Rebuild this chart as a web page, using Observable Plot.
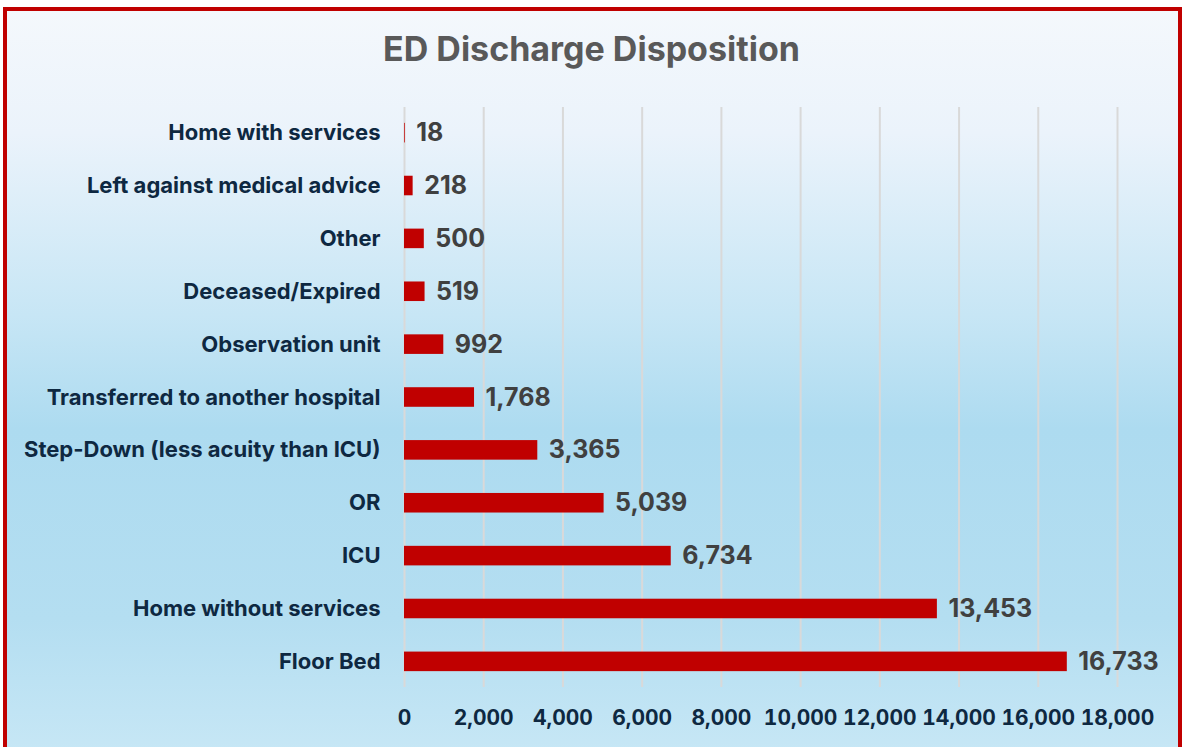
<!DOCTYPE html>
<html>
<head>
<meta charset="utf-8">
<script src="https://cdn.jsdelivr.net/npm/d3@7"></script>
<script src="https://cdn.jsdelivr.net/npm/@observablehq/plot@0.6"></script>
<style>
  html, body { margin: 0; padding: 0; background: #ffffff; overflow: hidden; }
  #page { position: relative; width: 1183px; height: 747px; overflow: hidden; font-family: Inter, "Noto Sans", sans-serif; }
  #frame {
    position: absolute; left: 3px; top: 7px; width: 1171px; height: 760px;
    border: 4px solid #C00000; border-bottom: none;
    background: linear-gradient(to bottom, #F4F8FC 0%, #EBF3FB 16%, #C7E6F5 40%, #ADDBF0 55%, #B4DEF1 80%, #C9E8F6 100%);
  }
  #title {
    position: absolute; left: 0; width: 1183px; top: 29px; text-align: center;
    font-size: 34px; line-height: 40px; font-weight: 700; color: #595959;
  }
  #chart { position: absolute; left: 0; top: 0; }
</style>
</head>
<body>
<div id="page">
  <div id="frame"></div>
  <div id="title">ED Discharge Disposition</div>
  <div id="chart"></div>
</div>
<script>
const categories = [
  "Home with services",
  "Left against medical advice",
  "Other",
  "Deceased/Expired",
  "Observation unit",
  "Transferred to another hospital",
  "Step-Down (less acuity than ICU)",
  "OR",
  "ICU",
  "Home without services",
  "Floor Bed"
];
const values = [18, 218, 500, 519, 992, 1768, 3365, 5039, 6734, 13453, 16733];
const xTicks = [0, 2000, 4000, 6000, 8000, 10000, 12000, 14000, 16000, 18000];

const data = categories.map((c, i) => ({category: c, value: values[i]}));
const fmt = d3.format(",");

const chart = Plot.plot({
  width: 1183,
  height: 747,
  marginLeft: 404,
  marginRight: 66,
  marginTop: 107,
  marginBottom: 60,
  style: {background: "transparent", fontFamily: "Inter, 'Noto Sans', sans-serif", overflow: "visible"},
  x: {domain: [0, 18000], ticks: xTicks, tickFormat: fmt, label: null},
  y: {domain: categories, paddingInner: 0.63, paddingOuter: 0.3, round: false, label: null},
  marks: [
    Plot.gridX(xTicks, {stroke: "#D9D9D9", strokeOpacity: 1, strokeWidth: 2}),
    Plot.barX(data, {x: "value", y: "category", fill: "#C00000"}),
    Plot.text(data, {x: "value", y: "category", text: d => fmt(d.value), dx: 11, textAnchor: "start",
      fontSize: 25, fontWeight: 700, fill: "#404040"}),
    Plot.axisX({ticks: xTicks, tickFormat: fmt, tickSize: 0, tickPadding: 23, fontSize: 21, fontWeight: 700, fill: "#0E2841", label: null}),
    Plot.axisY({tickSize: 0, tickPadding: 24, fontSize: 22, fontWeight: 700, fill: "#0E2841", label: null})
  ]
});
document.getElementById("chart").appendChild(chart);
</script>
</body>
</html>
